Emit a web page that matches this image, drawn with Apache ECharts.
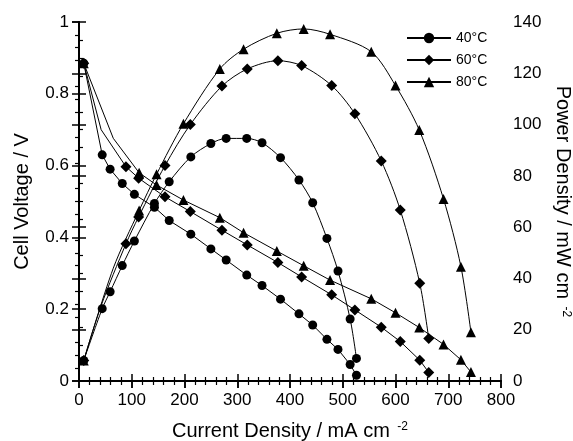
<!DOCTYPE html>
<html><head><meta charset="utf-8">
<script src="https://cdn.jsdelivr.net/npm/echarts@6/dist/echarts.min.js"></script>
<style>html,body{margin:0;padding:0;background:#fff}#c{width:573px;height:441px}</style>
</head><body><div id="c"></div>
<script>
// ---- data ----
const seriesNames = ['40°C', '60°C', '80°C'];
const current40 = [9, 44, 59, 82, 105, 143, 171, 212, 250, 279, 318, 347, 382, 417, 443, 470, 491, 514, 526];
const voltage40 = [0.885, 0.63, 0.59, 0.55, 0.52, 0.484, 0.447, 0.409, 0.368, 0.337, 0.295, 0.266, 0.228, 0.187, 0.156, 0.116, 0.088, 0.046, 0.016];
const power40   = [8, 28.2, 34.8, 45.0, 54.6, 69.2, 77.7, 87.4, 92.6, 94.6, 94.6, 92.9, 87.1, 78.4, 69.5, 55.6, 42.9, 24.2, 8.8];

const current60 = [9, 42, 89, 113, 163, 211, 271, 319, 377, 422, 479, 523, 573, 609, 646, 663];
const voltage60 = [0.885, 0.70, 0.597, 0.565, 0.513, 0.472, 0.42, 0.379, 0.33, 0.29, 0.24, 0.198, 0.15, 0.11, 0.058, 0.024];
const power60   = [8, 29.4, 53.5, 64.0, 84.0, 100.0, 115.0, 121.7, 124.9, 123.0, 115.2, 104.2, 85.8, 66.7, 38.1, 16.6];

const current80 = [9, 65, 114, 147, 198, 267, 312, 375, 426, 476, 554, 600, 645, 691, 724, 743];
const voltage80 = [0.885, 0.676, 0.58, 0.546, 0.504, 0.455, 0.413, 0.362, 0.321, 0.281, 0.229, 0.19, 0.149, 0.102, 0.059, 0.025];
const power80   = [8, 44.0, 66.5, 80.6, 100.3, 121.7, 129.4, 135.6, 137.3, 135.2, 128.4, 115.2, 97.9, 71.0, 44.6, 19.0];

// points drawn on the line without a marker (index into the arrays)
const unmarked40 = [];
const unmarked60 = [1];
const unmarked80 = [1];

const xTicks = [0, 800, 100];
const vTicks = [0, 1, 0.2];
const pTicks = [0, 140, 20];

// ---- chart ----
const FONT = 'Liberation Sans, Arial, Helvetica, sans-serif';
const BLACK = '#000';
const gridRect = {left: 79, right: 72, top: 22, bottom: 60, outerBoundsMode: 'none', containLabel: false};

function pts(xs, ys, unmarked) {
  return xs.map((x, i) => unmarked.indexOf(i) >= 0
    ? {value: [x, ys[i]], symbol: 'none'}
    : [x, ys[i]]);
}
function mk(name, xs, ys, unmarked, yIdx, symbol, size, smooth) {
  return {
    name, type: 'line', xAxisIndex: 0, yAxisIndex: yIdx,
    data: pts(xs, ys, unmarked), symbol, symbolSize: size, smooth,
    showSymbol: true, showAllSymbol: true,
    lineStyle: {color: BLACK, width: 1},
    itemStyle: {color: BLACK, borderWidth: 0},
    emphasis: {disabled: true}, animation: false, z: 3
  };
}
const sym = [['circle', 9], ['diamond', 11], ['triangle', 10]];
const cur = [current40, current60, current80];
const vol = [voltage40, voltage60, voltage80];
const pow = [power40, power60, power80];
const unm = [unmarked40, unmarked60, unmarked80];
const series = [];
for (let k = 0; k < 3; k++) {
  series.push(mk(seriesNames[k], cur[k], vol[k], unm[k], 0, sym[k][0], sym[k][1], false));
  series.push(mk(seriesNames[k], cur[k], pow[k], unm[k], 1, sym[k][0], sym[k][1], 0.3));
}

const lbl = {color: BLACK, fontSize: 17, fontFamily: FONT};
const lineS = {show: true, lineStyle: {color: BLACK, width: 2}};
const tickOut = {show: true, inside: false, length: 7, lineStyle: {color: BLACK, width: 1.5}};
const tickIn = {show: true, inside: true, length: 7, lineStyle: {color: BLACK, width: 1.5}};
const nameStyle = {color: BLACK, fontSize: 20, fontFamily: FONT,
  rich: {sup: {fontSize: 12, fontFamily: FONT, color: BLACK, verticalAlign: 'top', padding: [0, 0, 8, 2]}}};

function ax(t, gi, pos, extra) {
  return Object.assign({
    type: 'value', gridIndex: gi, position: pos, min: t[0], max: t[1], interval: t[2],
    splitLine: {show: false}, axisLine: lineS
  }, extra);
}
const minorIn = n => ({show: true, splitNumber: n, length: 4, lineStyle: {color: BLACK, width: 1.2}});

const option = {
  backgroundColor: '#fff',
  animation: false,
  grid: [Object.assign({}, gridRect), Object.assign({}, gridRect)],
  legend: {
    data: seriesNames, orient: 'vertical', left: 406, top: 31, itemGap: 8,
    itemWidth: 44, itemHeight: 13, padding: 0,
    textStyle: {color: BLACK, fontSize: 14, fontFamily: FONT},
    selectedMode: false
  },
  xAxis: [
    ax(xTicks, 0, 'bottom', {axisTick: tickOut, axisLabel: Object.assign({margin: 11}, lbl),
      name: 'Current Density / mA cm {sup|-2}', nameLocation: 'middle', nameGap: 40, nameTextStyle: nameStyle}),
    ax(xTicks, 0, 'top', {axisTick: tickOut, axisLabel: {show: false}}),
    ax(xTicks, 1, 'bottom', {axisLine: {show: false}, axisTick: tickIn, minorTick: minorIn(5), axisLabel: {show: false}}),
    ax(xTicks, 1, 'top', {axisLine: {show: false}, axisTick: tickIn, minorTick: minorIn(5), axisLabel: {show: false}})
  ],
  yAxis: [
    ax(vTicks, 0, 'left', {axisTick: tickOut, axisLabel: Object.assign({margin: 10}, lbl),
      name: 'Cell Voltage / V', nameLocation: 'middle', nameGap: 47, nameTextStyle: nameStyle}),
    ax(pTicks, 0, 'right', {axisTick: tickOut, axisLabel: Object.assign({margin: 12}, lbl),
      name: 'Power Density / mW cm {sup|-2}', nameLocation: 'middle', nameGap: 50, nameRotate: -90,
      nameTextStyle: nameStyle}),
    ax(vTicks, 1, 'left', {axisLine: {show: false}, axisTick: tickIn, minorTick: minorIn(4), axisLabel: {show: false}}),
    ax(pTicks, 1, 'right', {axisLine: {show: false}, axisTick: tickIn, minorTick: minorIn(4), axisLabel: {show: false}})
  ],
  series
};
const chart = echarts.init(document.getElementById('c'), null, {renderer: 'canvas'});
chart.setOption(option);
</script>
</body></html>
